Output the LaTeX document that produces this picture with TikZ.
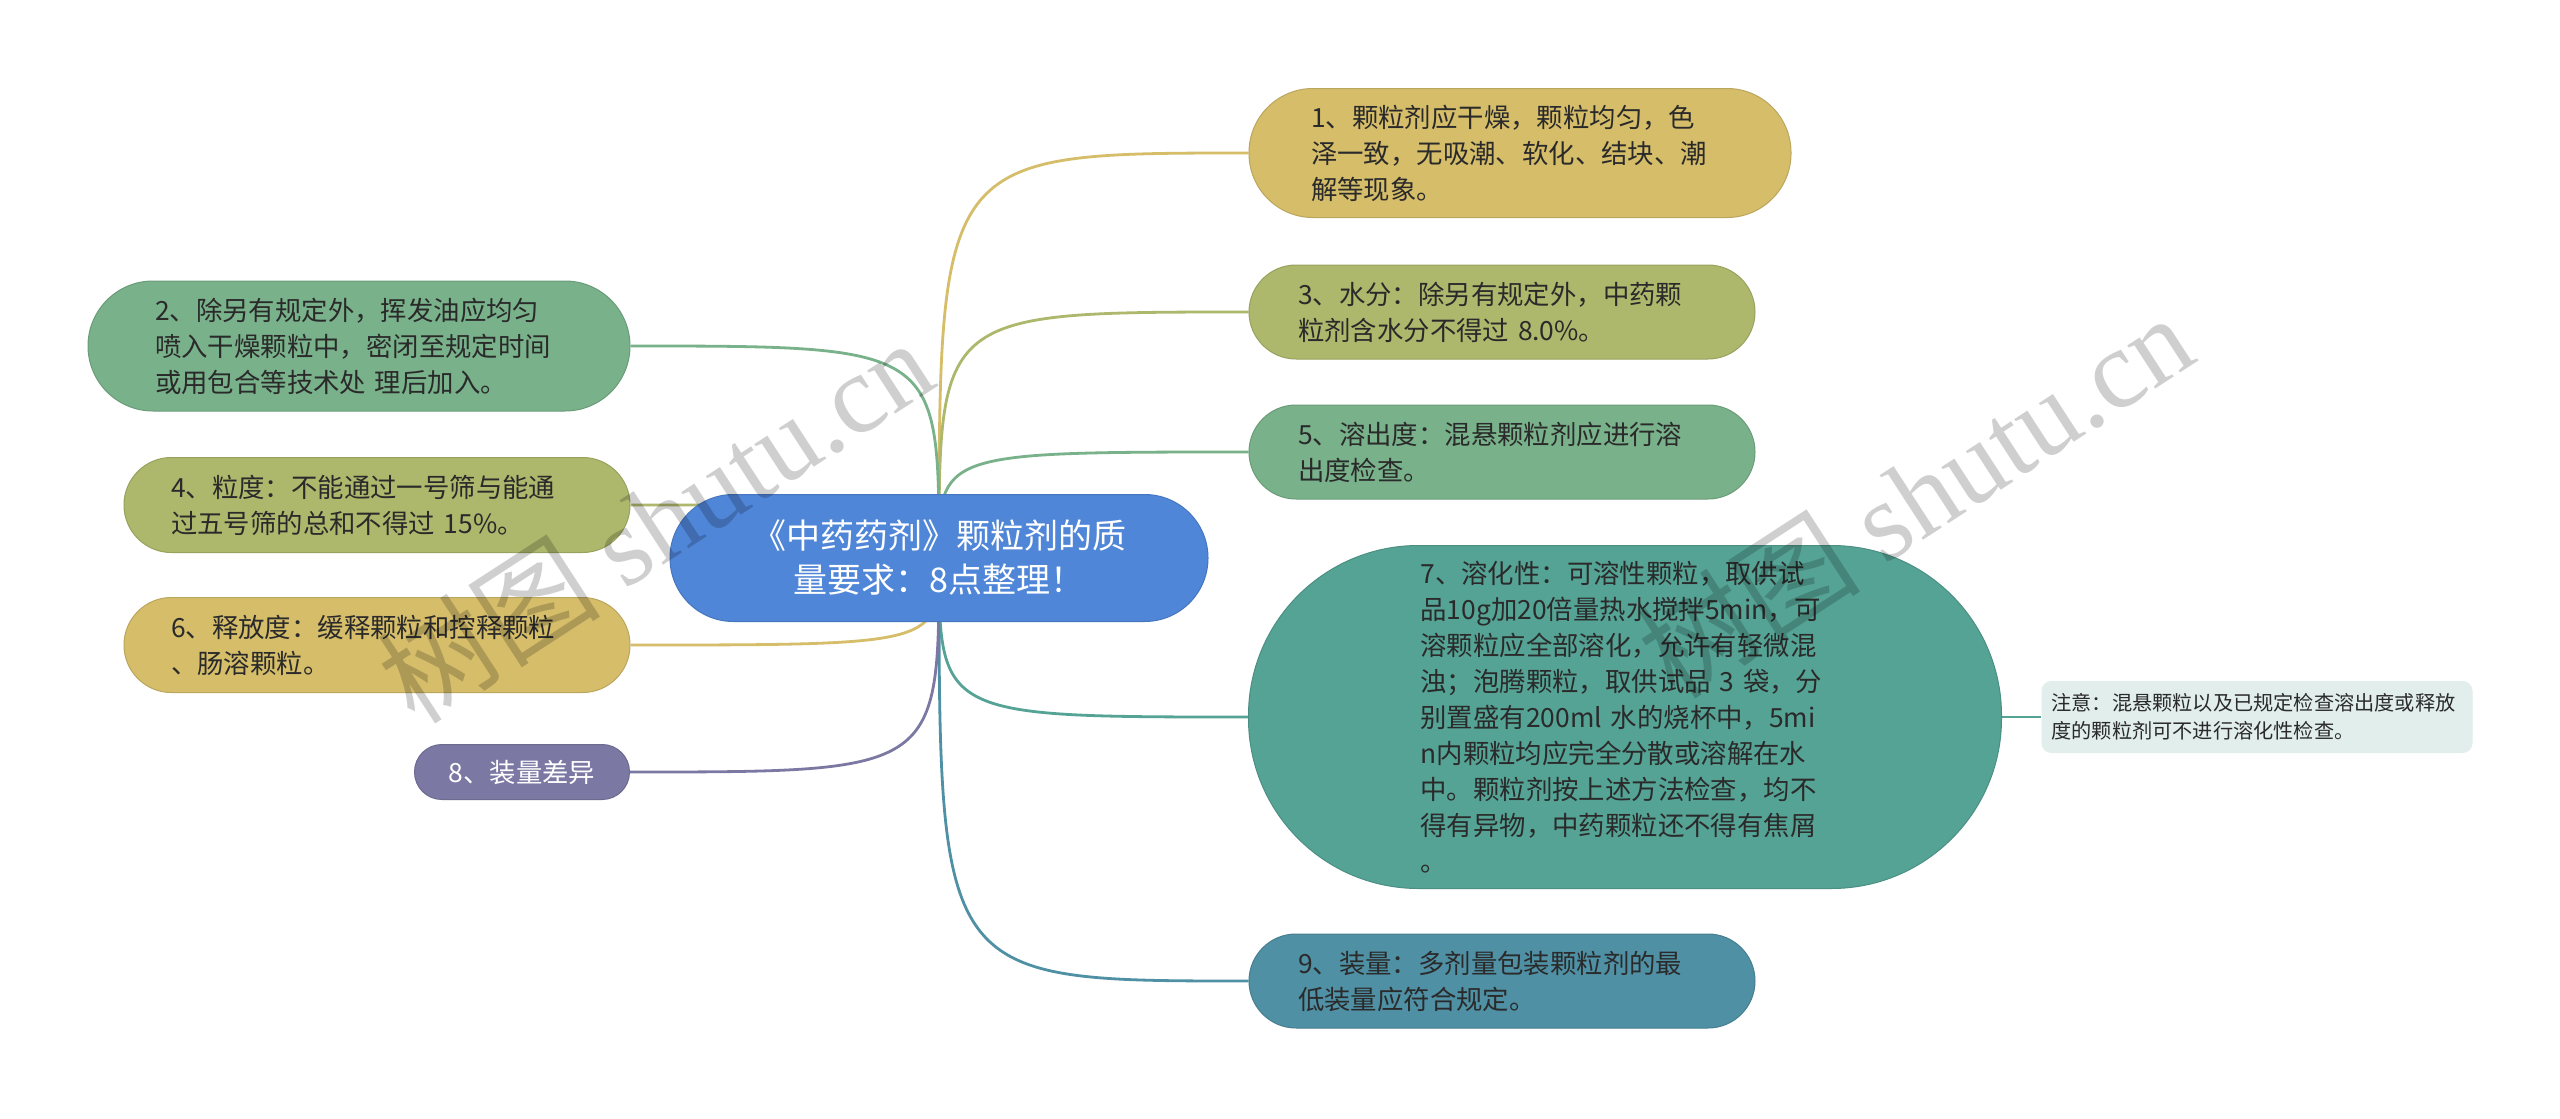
\documentclass[tikz,border=0pt]{standalone}
\usepackage{fontspec}
\setmainfont{Noto Sans CJK SC}
\newfontfamily\cjk{Noto Sans CJK SC}
\newfontfamily\wmserif{Liberation Serif}
\usetikzlibrary{backgrounds}
\definecolor{cblue}{HTML}{4F86D8}
\definecolor{cgold}{HTML}{D5BD6A}
\definecolor{colive}{HTML}{ADB86C}
\definecolor{cgreen}{HTML}{78B18A}
\definecolor{cteal}{HTML}{55A395}
\definecolor{cpetrol}{HTML}{4F90A4}
\definecolor{cpurple}{HTML}{7B79A3}
\definecolor{cnote}{HTML}{E1EEEC}
\definecolor{ctext}{HTML}{2A2A2A}
\begin{document}
\begin{tikzpicture}[x=0.5pt,y=-0.5pt,
  box/.style={draw=#1!88!black, line width=0.5pt, fill=#1, text=ctext, align=left,
    inner ysep=0pt, font=\fontsize{13.2}{18}\selectfont},
  link/.style={draw=#1, line width=1.4pt},
  wm/.style={text=black, text opacity=0.19, rotate=33, font=\fontsize{56}{56}\selectfont},
]
\useasboundingbox (0,0) rectangle (2560,1119);

% central
\node[box=cblue, text=white, align=center, minimum width=269pt, minimum height=63.5pt,
  rounded corners=31.7pt, font=\fontsize{17}{22}\selectfont] (c) at (939,558)
  {《中药药剂》颗粒剂的质\\量要求：8点整理！};

% right side
\node[box=cgold, minimum width=271pt, minimum height=64.5pt, text width=209pt, inner xsep=31pt,
  rounded corners=32pt] (n1) at (1520,153)
  {1、颗粒剂应干燥，颗粒均匀，色\\泽一致，无吸潮、软化、结块、潮\\解等现象。};
\node[box=colive, minimum width=253pt, minimum height=47pt, text width=204pt, inner xsep=24.5pt,
  rounded corners=23.5pt] (n3) at (1502,312)
  {3、水分：除另有规定外，中药颗\\粒剂含水分不得过 8.0\%。};
\node[box=cgreen, minimum width=253pt, minimum height=47pt, text width=204pt, inner xsep=24.5pt,
  rounded corners=23.5pt] (n5) at (1502,452)
  {5、溶出度：混悬颗粒剂应进行溶\\出度检查。};
\node[box=cteal, minimum width=376.5pt, minimum height=171.5pt, text width=204.5pt, inner xsep=86pt,
  rounded corners=85pt] (n7) at (1625,717)
  {7、溶化性：可溶性颗粒，取供试\\品10g加20倍量热水搅拌5min，可\\溶颗粒应全部溶化，允许有轻微混\\浊；泡腾颗粒，取供试品 3 袋，分\\别置盛有200ml 水的烧杯中，5mi\\n内颗粒均应完全分散或溶解在水\\中。颗粒剂按上述方法检查，均不\\得有异物，中药颗粒还不得有焦屑\\。};
\node[box=cpetrol, minimum width=253pt, minimum height=47pt, text width=204pt, inner xsep=24.5pt,
  rounded corners=23.5pt] (n9) at (1502,981)
  {9、装量：多剂量包装颗粒剂的最\\低装量应符合规定。};
\node[box=cnote, draw=none, minimum width=215.5pt, minimum height=36pt, text width=205.5pt, inner xsep=5pt,
  rounded corners=5pt, font=\fontsize{10.1}{14}\selectfont] (note) at (2257,717)
  {注意：混悬颗粒以及已规定检查溶出度或释放\\度的颗粒剂可不进行溶化性检查。};

% left side
\node[box=cgreen, minimum width=271pt, minimum height=65pt, text width=204pt, inner xsep=33.5pt,
  rounded corners=32.5pt] (n2) at (359,346)
  {2、除另有规定外，挥发油应均匀\\喷入干燥颗粒中，密闭至规定时间\\或用包合等技术处 理后加入。};
\node[box=colive, minimum width=253pt, minimum height=47.5pt, text width=206pt, inner xsep=23.5pt,
  rounded corners=23.7pt] (n4) at (377,505)
  {4、粒度：不能通过一号筛与能通\\过五号筛的总和不得过 15\%。};
\node[box=cgold, minimum width=253pt, minimum height=47.5pt, text width=206pt, inner xsep=23.5pt,
  rounded corners=23.7pt] (n6) at (377,645)
  {6、释放度：缓释颗粒和控释颗粒\\、肠溶颗粒。};
\node[box=cpurple, text=white, align=center, minimum width=107.5pt, minimum height=27.5pt,
  rounded corners=13.7pt] (n8) at (522,772)
  {8、装量差异};

% white page and connectors, behind the nodes
\begin{scope}[on background layer]
\fill[white] (0,0) rectangle (2560,1119);
\path[link=cgold]   (c.center) .. controls (c.center |- n1.west) .. (n1.west);
\path[link=colive]  (c.center) .. controls (c.center |- n3.west) .. (n3.west);
\path[link=cgreen]  (c.center) .. controls (c.center |- n5.west) .. (n5.west);
\path[link=cteal]   (c.center) .. controls (c.center |- n7.west) .. (n7.west);
\path[link=cpetrol] (c.center) .. controls (c.center |- n9.west) .. (n9.west);
\path[link=cgreen]  (c.center) .. controls (c.center |- n2.east) .. (n2.east);
\path[link=colive]  (c.center) .. controls (c.center |- n4.east) .. (n4.east);
\path[link=cgold]   (c.center) .. controls (c.center |- n6.east) .. (n6.east);
\path[link=cpurple] (c.center) .. controls (c.center |- n8.east) .. (n8.east);
\path[link=cteal]   (n7.east) -- (note.west);
\end{scope}

% watermarks
\node[wm] (wm1) at (655,520) {{\cjk 树图} {\wmserif shutu.cn}};
\node[wm] (wm2) at (1915,495) {{\cjk 树图} {\wmserif shutu.cn}};
\end{tikzpicture}
\end{document}
